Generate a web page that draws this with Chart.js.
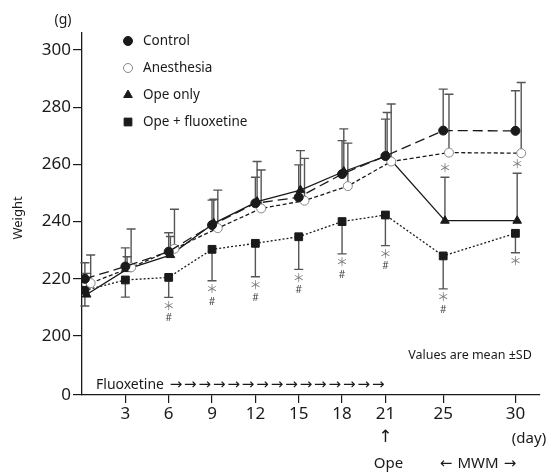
<!DOCTYPE html>
<html>
<head>
<meta charset="utf-8">
<script src="https://cdn.jsdelivr.net/npm/chart.js@4.4.1/dist/chart.umd.min.js"></script>
<style>
  body { margin: 0; background: #fff; }
  canvas { display: block; }
</style>
</head>
<body>
<canvas id="weightChart" width="547" height="473"></canvas>
<script>
/*............ data ............*/
const days = [0.2, 3, 6, 9, 12, 15, 18, 21, 25, 30];
const xTicks = [3, 6, 9, 12, 15, 18, 21, 25, 30];
const yTicks = [200, 220, 240, 260, 280, 300];

const controlMean = [220.0, 224.3, 229.5, 238.8, 246.4, 248.5, 256.6, 262.9, 271.8, 271.7];
const controlSD   = [5.6, 6.5, 6.6, 8.7, 9.1, 11.3, 11.7, 12.9, 14.5, 14.0];
const anesMean    = [218.5, 224.0, 230.5, 237.7, 244.6, 247.3, 252.4, 261.0, 264.1, 263.9];
const anesSD      = [9.8, 13.4, 13.8, 13.3, 13.4, 14.8, 15.0, 20.1, 20.4, 24.7];
const opeMean     = [214.5, 223.4, 228.3, 239.4, 247.0, 251.0, 257.5, 263.0, 240.3, 240.3];
const opeSD       = [7.4, 4.3, 6.5, 8.4, 14.0, 13.8, 14.9, 15.1, 15.2, 16.6];
const fluoMean    = [216.0, 219.6, 220.5, 230.3, 232.4, 234.7, 240.0, 242.3, 228.0, 235.9];
const fluoSD      = [5.5, 6.0, 7.0, 11.0, 11.7, 11.4, 11.3, 10.7, 11.5, 6.8];

// significance marks
const opeMarks  = ['', '', '', '', '', '', '', '', '*', '*'];
const fluoMarks = ['', '', '*#', '*#', '*#', '*#', '*#', '*#', '*#', '*'];
const fluoxetineDays = [7, 8, 9, 10, 11, 12, 13, 14, 15, 16, 17, 18, 19, 20, 21];

/*............ scale limits (broken axis: bottom shows 0) ............*/
const Y_MIN = 179.4;
const Y_MAX = 305.9;
const INK = '#1a1a1a';
const BAR = '#555';

function series(label, mean, sd, dodge, opts) {
  return Object.assign({
    label: label,
    data: days.map((d, i) => ({ x: d + dodge, y: mean[i] })),
    sd: sd,
    borderColor: INK,
    borderWidth: 1.3,
    pointBorderColor: INK,
    pointBorderWidth: 1,
    tension: 0,
  }, opts);
}

const datasets = [
  series('Control', controlMean, controlSD, 0, {
    borderDash: [10, 5], pointStyle: 'circle', pointRadius: 4.5,
    pointBackgroundColor: INK, errDir: 1, marks: null,
  }),
  series('Anesthesia', anesMean, anesSD, 0.4, {
    borderDash: [4, 2.5], pointStyle: 'circle', pointRadius: 4.5,
    pointBackgroundColor: '#fff', pointBorderColor: '#888', errDir: 1, marks: null,
  }),
  series('Ope only', opeMean, opeSD, 0.12, {
    borderDash: [], pointStyle: 'triangle', pointRadius: 5,
    pointBackgroundColor: INK, errDir: 1, marks: opeMarks,
  }),
  series('Ope + fluoxetine', fluoMean, fluoSD, 0, {
    borderDash: [2, 2], pointStyle: 'rect', pointRadius: 5.5,
    pointBackgroundColor: INK, errDir: -1, marks: fluoMarks,
  }),
];

/*............ error bars, marks, legend, notes ............*/
const annot = {
  id: 'annot',
  beforeDatasetsDraw(chart) {
    const ctx = chart.ctx, xs = chart.scales.x, ys = chart.scales.y;
    ctx.save();
    ctx.strokeStyle = BAR;
    ctx.lineWidth = 1.4;
    chart.data.datasets.forEach(ds => {
      ds.data.forEach((p, i) => {
        const x = xs.getPixelForValue(p.x);
        const y0 = ys.getPixelForValue(p.y);
        const y1 = ys.getPixelForValue(p.y + ds.errDir * ds.sd[i]);
        ctx.beginPath();
        ctx.moveTo(x, y0); ctx.lineTo(x, y1);
        ctx.moveTo(x - 4.5, y1); ctx.lineTo(x + 4.5, y1);
        ctx.stroke();
      });
    });
    ctx.restore();
  },
  afterDatasetsDraw(chart) {
    const ctx = chart.ctx, xs = chart.scales.x, ys = chart.scales.y;
    ctx.save();
    ctx.textAlign = 'center';
    ctx.textBaseline = 'middle';

    // significance marks
    chart.data.datasets.forEach(ds => {
      if (!ds.marks) return;
      ds.data.forEach((p, i) => {
        const m = ds.marks[i];
        if (!m) return;
        const x = xs.getPixelForValue(p.x);
        const cap = ys.getPixelForValue(p.y + ds.errDir * ds.sd[i]);
        const dir = -ds.errDir;
        ctx.fillStyle = '#777';
        ctx.font = '12px "Noto Sans CJK JP"';
        ctx.fillText('＊', x, cap + dir * 9);
        if (m.indexOf('#') >= 0) {
          ctx.fillStyle = '#444';
          ctx.font = '10px "Noto Sans"';
          ctx.fillText('#', x, cap + dir * 21);
        }
      });
    });

    // legend
    chart.data.datasets.forEach((ds, i) => {
      const y = 41 + i * 27;
      ctx.fillStyle = ds.pointBackgroundColor;
      ctx.strokeStyle = ds.pointBorderColor;
      ctx.lineWidth = 1;
      Chart.helpers.drawPoint(ctx, { pointStyle: ds.pointStyle, radius: ds.pointRadius, rotation: 0, borderWidth: 1 }, 128, y);
      ctx.fillStyle = INK;
      ctx.textAlign = 'left';
      ctx.font = '13.5px "Noto Sans"';
      ctx.fillText(ds.label, 143, y);
    });

    // notes
    ctx.fillStyle = INK;
    ctx.textAlign = 'center';
    ctx.font = '14px "Noto Sans"';
    ctx.fillText('(g)', 63, 20);
    ctx.font = '12.5px "Noto Sans"';
    ctx.fillText('Values are mean \u00B1SD', 470, 355);
    ctx.font = '14px "Noto Sans"';
    ctx.textAlign = 'left';
    ctx.fillText('Fluoxetine', 96, 385);
    ctx.textAlign = 'center';
    ctx.font = '15px "DejaVu Sans"';
    fluoxetineDays.forEach(d => ctx.fillText('\u2192', xs.getPixelForValue(d - 0.5), 385));
    ctx.font = '17px "DejaVu Sans"';
    ctx.fillText('\u2191', xs.getPixelForValue(21), 438);
    ctx.font = '15px "Noto Sans"';
    ctx.fillText('Ope', xs.getPixelForValue(21) + 3, 464);
    ctx.fillText('MWM', 478, 464);
    ctx.font = '15px "DejaVu Sans"';
    ctx.fillText('\u2190', 446, 464);
    ctx.fillText('\u2192', 510, 464);
    ctx.font = '15px "Noto Sans"';
    ctx.fillText('(day)', 529, 439);

    ctx.translate(18, 218);
    ctx.rotate(-Math.PI / 2);
    ctx.font = '13px "Noto Sans"';
    ctx.fillText('Weight', 0, 0);
    ctx.restore();
  }
};

const tickFont = { family: '"Noto Sans"', size: 17 };

const config = {
  type: 'line',
  data: { datasets: datasets },
  options: {
    responsive: false,
    animation: false,
    layout: { padding: { top: 33, right: 7, left: 0, bottom: 0 } },
    plugins: { legend: { display: false }, tooltip: { enabled: false } },
    scales: {
      x: {
        type: 'linear',
        min: 0,
        max: 31.7,
        grid: { drawOnChartArea: false, tickLength: 8, color: INK, lineWidth: 1.2 },
        border: { color: INK, width: 1.3 },
        ticks: { font: tickFont, color: INK, padding: 1, maxRotation: 0, autoSkip: false },
        afterBuildTicks: s => { s.ticks = xTicks.map(v => ({ value: v })); },
        afterFit: s => { s.height = 78; },
      },
      y: {
        min: Y_MIN,
        max: Y_MAX,
        grid: { drawOnChartArea: false, tickLength: 9, color: INK, lineWidth: 1.2 },
        border: { color: INK, width: 1.3 },
        ticks: {
          font: tickFont, color: INK, padding: 2,
          callback: v => (v === Y_MIN ? '0' : v),
        },
        afterBuildTicks: s => { s.ticks = [Y_MIN].concat(yTicks).map(v => ({ value: v })); },
        afterFit: s => { s.width = 82; },
      }
    }
  },
  plugins: [annot]
};

const ctx = document.getElementById('weightChart').getContext('2d');
const weightChart = new Chart(ctx, config);
</script>
</body>
</html>
